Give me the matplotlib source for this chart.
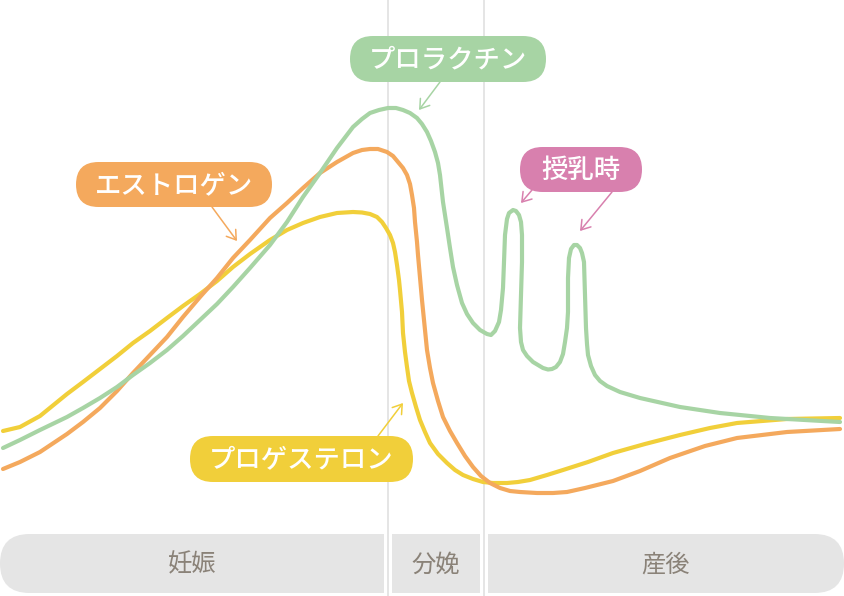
import matplotlib.pyplot as plt
from matplotlib.patches import FancyBboxPatch, Rectangle, FancyArrowPatch

plt.rcParams['font.family'] = ['Noto Sans CJK JP', 'DejaVu Sans']

# curves (x, y in picture pixels, y grows downward)
prolactin_x = [3, 20, 40, 67, 83, 100, 117, 133, 150, 167, 183, 200, 217, 233, 250, 270,
               287, 303, 320, 337, 353,
               362, 370, 379, 388, 396, 403, 410, 417, 422, 427, 431, 435, 438, 440,
               443, 447, 450, 453, 457, 462, 467, 473, 480, 487, 491, 495, 499, 501,
               503, 504, 505, 507, 509, 513, 516, 519, 521, 522, 522, 521, 520, 521,
               523, 527, 533, 543, 548, 552, 556, 560, 563, 565, 567, 568, 568, 569,
               571, 574, 577, 580, 582, 584, 585, 586, 587, 588, 591, 595, 600, 607,
               620, 640, 680, 720, 770, 840]
prolactin_y = [448, 440, 430, 417, 408, 398, 387, 375, 363, 350, 336, 320, 304, 287, 268, 245,
               222, 197, 173, 148, 127,
               119, 113, 110, 108, 108, 110, 113, 118, 124, 132, 141, 152, 163, 175,
               202, 228, 248, 267, 285, 303, 314, 323, 330, 334, 335, 331, 322, 310,
               288, 262, 235, 219, 213, 210, 211, 215, 222, 235, 262, 295, 328, 342,
               350, 356, 362, 368, 369.5, 369, 367, 362, 354, 342, 328, 312, 278, 258,
               249, 245, 245, 248, 253, 262, 295, 328, 344, 355, 366, 375, 381, 386,
               392, 398, 407, 413, 418, 422]

estrogen_x = [3, 20, 40, 67, 83, 100, 117, 133, 150, 167, 183, 200, 217, 233, 250, 270,
              287, 303, 320, 337, 353,
              362, 370, 378, 387, 393, 398, 403, 407, 410, 412, 414, 415, 417, 418,
              422, 427, 430, 433, 438, 443, 450, 457, 465, 473, 481, 490, 500, 510,
              520, 537, 553, 567, 585, 613, 640, 670, 705, 737, 787, 840]
estrogen_y = [469, 462, 452, 434, 422, 408, 391, 373, 355, 337, 317, 297, 278, 258, 240, 218,
              203, 188, 173, 162, 153,
              150, 149, 149, 152, 156, 162, 168, 175, 184, 195, 208, 222, 242, 255,
              300, 350, 368, 383, 401, 417, 431, 443, 456, 467, 476, 483, 488, 491,
              492, 493, 493, 492, 488, 481, 471, 458, 446, 438, 432, 429]

progesterone_x = [3, 20, 40, 67, 83, 100, 117, 133, 150, 167, 183, 200, 217, 233, 250, 270,
                  287, 303, 320, 337, 353,
                  362, 370, 377, 382, 386, 390, 393, 395, 397, 399, 400, 402, 403, 405,
                  407, 409, 412, 416, 420, 425, 430, 438, 447, 455, 463, 473, 483, 493,
                  500, 507, 518, 530, 547, 563, 588, 613, 645, 680, 710, 737, 787, 840]
progesterone_y = [431, 427, 416, 394, 382, 369, 356, 343, 331, 318, 306, 294, 281, 267, 254, 240,
                  230, 223, 217, 213, 212,
                  212.5, 214, 217, 222, 228, 235, 243, 252, 265, 280, 290, 312, 333, 352,
                  367, 381, 393, 407, 420, 432, 443, 454, 463, 470, 475, 479, 482, 483,
                  483, 483, 482, 480, 475, 470, 462, 453, 444, 435, 428, 423, 419, 418]

hormone_names = ['プロラクチン', 'エストロゲン', 'プロゲステロン', '授乳時']
phase_names = ['妊娠', '分娩', '産後']

green = '#a7d4a4'
orange = '#f4a95d'
yellow = '#f1cf3a'
pink = '#d880ae'
grid_gray = '#e3e3e3'
box_gray = '#e5e5e5'
text_gray = '#8a8278'

fig = plt.figure(figsize=(8.44, 5.96), dpi=100)
ax = fig.add_axes([0, 0, 1, 1])
ax.set_xlim(0, 844)
ax.set_ylim(596, 0)
ax.axis('off')

# phase separators
for xv in [388, 484]:
    ax.axvline(xv, color=grid_gray, lw=1.3, zorder=1)

lw = 3.0
ax.plot(progesterone_x, progesterone_y, color=yellow, lw=lw,
        solid_joinstyle='round', solid_capstyle='round', zorder=3)
ax.plot(estrogen_x, estrogen_y, color=orange, lw=lw,
        solid_joinstyle='round', solid_capstyle='round', zorder=3)
ax.plot(prolactin_x, prolactin_y, color=green, lw=lw,
        solid_joinstyle='round', solid_capstyle='round', zorder=3)


def pill(x0, x1, y0, y1, color, label, size=19, tcolor='white'):
    h = y1 - y0
    p = FancyBboxPatch((x0, y0), x1 - x0, h,
                       boxstyle='round,pad=0,rounding_size=%f' % (h / 2),
                       fc=color, ec='none', zorder=5)
    ax.add_patch(p)
    ax.text((x0 + x1) / 2, (y0 + y1) / 2 + 1, label, color=tcolor, fontsize=size,
            ha='center', va='center', fontweight='medium', zorder=6)


def arrow(start, end, color):
    a = FancyArrowPatch(start, end, arrowstyle='->,head_length=0.45,head_width=0.3',
                        color=color, lw=1.1, mutation_scale=14, zorder=4,
                        shrinkA=0, shrinkB=0)
    ax.add_patch(a)


pill(350, 546, 36, 82, green, hormone_names[0])
arrow((440, 82), (419, 110), green)

pill(76, 272, 162, 207, orange, hormone_names[1])
arrow((212, 207), (237, 241), orange)

pill(190, 413, 436, 482, yellow, hormone_names[2])
arrow((378, 436), (403, 403), yellow)

pill(520, 642, 147, 192, pink, hormone_names[3])
arrow((532, 190), (521, 203), pink)
arrow((612, 192), (580, 231), pink)

# bottom phase bars
by0, by1 = 534, 593
bh = by1 - by0
ax.add_patch(FancyBboxPatch((0, by0), 384, bh,
                            boxstyle='round,pad=0,rounding_size=%f' % (bh / 2),
                            fc=box_gray, ec='none', zorder=2))
ax.add_patch(Rectangle((340, by0), 44, bh, fc=box_gray, ec='none', zorder=2))
ax.add_patch(Rectangle((392, by0), 88, bh, fc=box_gray, ec='none', zorder=2))
ax.add_patch(FancyBboxPatch((488, by0), 356, bh,
                            boxstyle='round,pad=0,rounding_size=%f' % (bh / 2),
                            fc=box_gray, ec='none', zorder=2))
ax.add_patch(Rectangle((488, by0), 44, bh, fc=box_gray, ec='none', zorder=2))

for label, xc in zip(phase_names, [192, 436, 666]):
    ax.text(xc, (by0 + by1) / 2 + 1, label, color=text_gray, fontsize=17.5,
            ha='center', va='center', zorder=3)

fig.savefig('out.png', dpi=100)
